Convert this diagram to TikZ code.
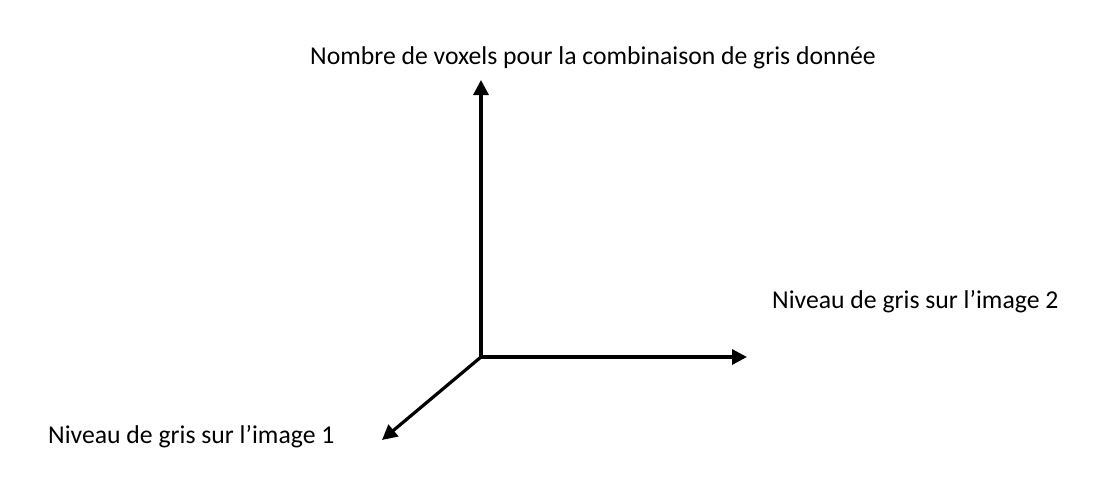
\documentclass[tikz,border=0pt]{standalone}
\usepackage{fontspec}
\setmainfont{Carlito}
\usetikzlibrary{arrows.meta}

\begin{document}
\begin{tikzpicture}[x=1pt, y=-1pt,
    every node/.style={font=\fontsize{25.7}{30}\selectfont, inner sep=0pt},
    axis/.style={line width=3.2pt, -{Triangle[length=15pt, width=15pt]}}]
  \useasboundingbox (0,0) rectangle (1109,498);

  % origin and axis ends
  \coordinate (o) at (481,357);
  \coordinate (zend) at (481,80);
  \coordinate (yend) at (747,357);
  \coordinate (xend) at (382,440);

  \draw[axis] (o) -- (zend);
  \draw[axis] (o) -- (yend);
  \draw[axis] (o) -- (xend);

  % labels
  \node (zlab) at (593,58) {Nombre de voxels pour la combinaison de gris donnée};
  \node[anchor=west] (ylab) at (772,302) {Niveau de gris sur l’image 2};
  \node[anchor=west] (xlab) at (48,437) {Niveau de gris sur l’image 1};
\end{tikzpicture}
\end{document}
